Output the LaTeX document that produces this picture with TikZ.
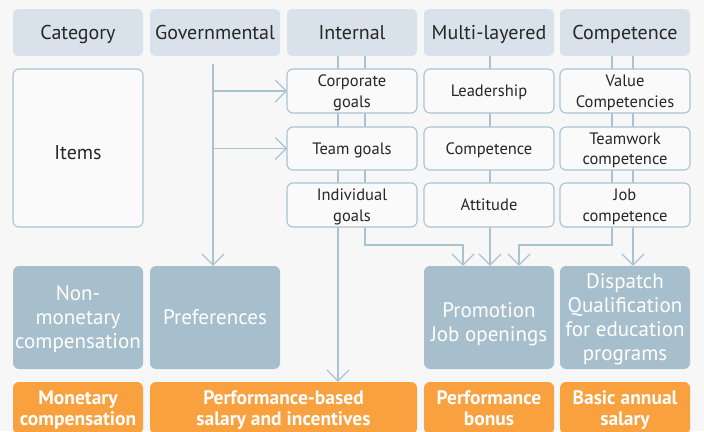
\documentclass[tikz,border=0pt]{standalone}
\usepackage{fontspec}
\setmainfont{PT Sans}
\usetikzlibrary{arrows.meta}
\definecolor{bg}{HTML}{F7F7F7}
\definecolor{hdr}{HTML}{D9E2EA}
\definecolor{lineblue}{HTML}{A9C3D1}
\definecolor{itemfill}{HTML}{FAFAFA}
\definecolor{boxblue}{HTML}{A7BFCC}
\definecolor{orng}{HTML}{F9A03F}
\definecolor{txt}{HTML}{262626}
\begin{document}
\begin{tikzpicture}[x=1pt,y=-1pt,
 hdrbox/.style={fill=hdr, rounded corners=5pt, minimum width=130pt, minimum height=47pt, inner sep=0pt, text depth=0pt, text=txt, font=\fontsize{20}{23}\selectfont},
 itembox/.style={draw=lineblue, line width=1.1pt, fill=itemfill, rounded corners=6pt, minimum width=130pt, inner sep=0pt, text depth=0pt, align=center, text=txt, font=\fontsize{16.5}{20.5}\selectfont},
 bluebox/.style={fill=boxblue, rounded corners=6pt, minimum width=130pt, minimum height=103pt, inner sep=0pt, text depth=0pt, align=center, text=white, font=\fontsize{21}{24}\selectfont},
 orbox/.style={fill=orng, rounded corners=6pt, minimum height=52pt, inner sep=0pt, text depth=0pt, align=center, text=white, font=\bfseries\fontsize{19.5}{20.5}\selectfont},
 conn/.style={draw=lineblue, line width=1.2pt},
 arr/.style={conn, -{Straight Barb[length=11pt,width=22pt,line width=1.2pt]}}
]
\clip (0,0) rectangle (704,431);
\fill[bg] (0,0) rectangle (704,431);

% headers
\node[hdrbox] (hcat) at (78,32.5) {Category};
\node[hdrbox] (hgov) at (215,32.5) {Governmental};
\node[hdrbox] (hint) at (352,32.5) {Internal};
\node[hdrbox] (hmul) at (489,32.5) {Multi-layered};
\node[hdrbox] (hcom) at (625,32.5) {Competence};

% bottom boxes
\node[bluebox] (bnon) at (78,317.5) {Non-\\monetary\\compensation};
\node[bluebox] (bpre) at (215,317.5) {Preferences};
\node[bluebox, text height=47pt] (bpro) at (489,317.5) {Promotion\\Job openings};
\node[bluebox] (bdis) at (625,317.5) {Dispatch\\Qualification\\for education\\programs};

\node[orbox, minimum width=130pt] (omon) at (78,408) {Monetary\\compensation};
\node[orbox, minimum width=267pt] (operf) at (283.5,408) {Performance-based\\salary and incentives};
\node[orbox, minimum width=130pt] (obon) at (489,408) {Performance\\bonus};
\node[orbox, minimum width=130pt] (obas) at (625,408) {Basic annual\\salary};

% item box centres
\path (78,148) coordinate (citems)
      (352,91) coordinate (ccorp) (352,148.5) coordinate (cteam) (352,205) coordinate (cindi);

% connectors
\coordinate (govtop) at ([xshift=-2pt,yshift=-8pt]hgov.south);
\draw[arr] (govtop) -- ([xshift=-2pt]bpre.north);
\coordinate (govb1) at (213,91);
\coordinate (govb2) at (213,148.5);
\draw[arr] (govb1) -- (287,91);
\draw[arr] (govb2) -- (287,148.5);

\draw[arr] ([xshift=-14pt]hint.south) -- ([xshift=54.5pt]operf.north);
\coordinate (intbend1) at (365,245);
\coordinate (intbend2) at (463,245);
\draw[arr] ([xshift=13pt]hint.south) -- (intbend1) -- (intbend2) -- (intbend2 |- bpro.north);

\draw[arr] ([xshift=1pt]hmul.south) -- ([xshift=1pt]bpro.north);

\coordinate (combend1) at (612,245);
\coordinate (combend2) at (519,245);
\draw[arr] ([xshift=-13pt]hcom.south) -- (combend1) -- (combend2) -- (combend2 |- bpro.north);
\draw[arr] ([xshift=8pt]hcom.south) -- ([xshift=8pt]bdis.north);

% item boxes
\node[itembox, minimum height=158pt, text height=23pt, font=\fontsize{20}{23}\selectfont] (items) at (citems) {Items};
\node[itembox, minimum height=44pt] (corp) at (ccorp) {Corporate\\goals};
\node[itembox, minimum height=43pt] (team) at (cteam) {Team goals};
\node[itembox, minimum height=44pt] (indi) at (cindi) {Individual\\goals};
\node[itembox, minimum height=44pt] (lead) at (489,91) {Leadership};
\node[itembox, minimum height=43pt] (compt) at (489,148.5) {Competence};
\node[itembox, minimum height=44pt] (atti) at (489,205) {Attitude};
\node[itembox, minimum height=44pt] (valc) at (625,91) {Value\\Competencies};
\node[itembox, minimum height=43pt] (teamc) at (625,148.5) {Teamwork\\competence};
\node[itembox, minimum height=44pt] (jobc) at (625,205) {Job\\competence};
\end{tikzpicture}
\end{document}
